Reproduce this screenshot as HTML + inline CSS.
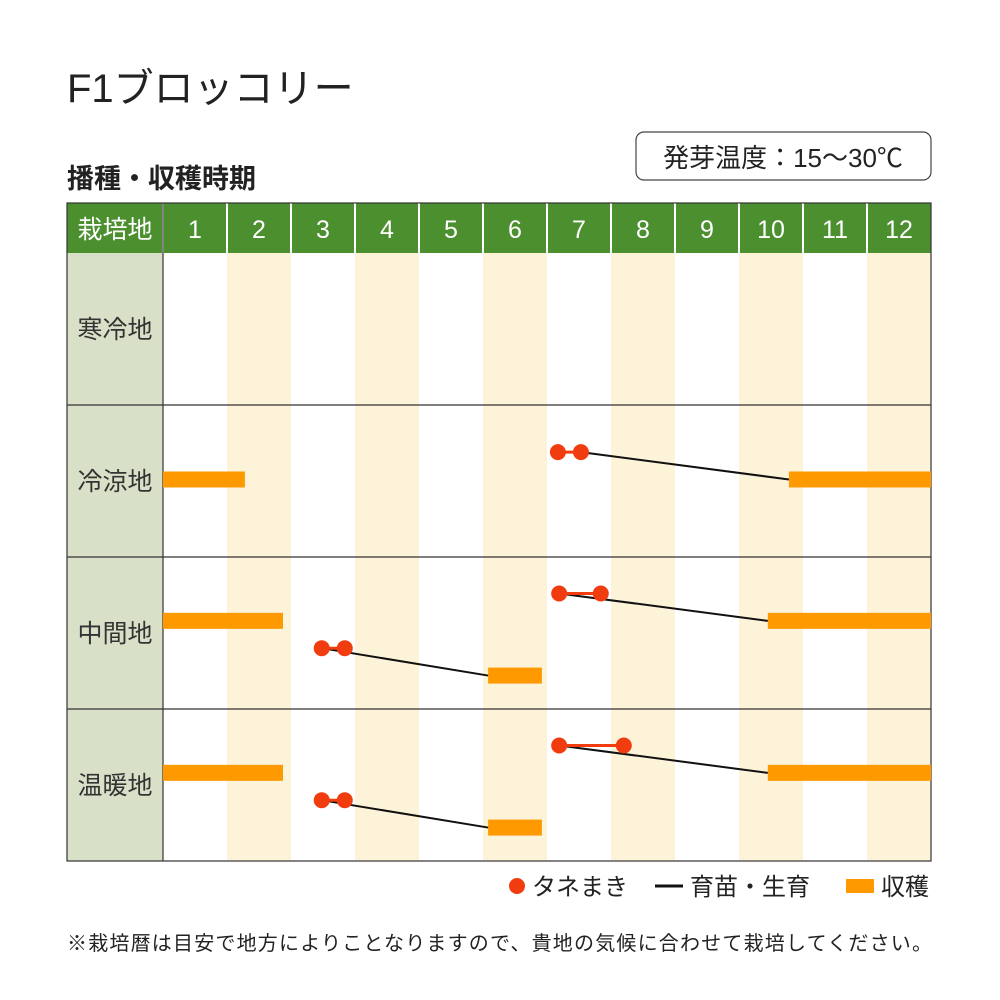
<!DOCTYPE html>
<html><head><meta charset="utf-8"><style>
body{margin:0;background:#fff;font-family:"Liberation Sans","Noto Sans CJK JP",sans-serif;}
#wrap{position:relative;width:1000px;height:1000px;overflow:hidden}
</style></head><body>
<div id="wrap">
<svg id="svg" width="1000" height="1000" style="position:absolute;left:0;top:0"></svg>
</div>
<script>
const months=["1","2","3","4","5","6","7","8","9","10","11","12"];
const regions=["寒冷地","冷涼地","中間地","温暖地"];
// harvest bars: [regionIndex, lane(0..1 fraction of row), startMonth, endMonth]
const harvestRegion=[1,1,2,2,2,3,3,3];
const harvestLane=[0.49,0.49,0.42,0.78,0.42,0.42,0.78,0.42];
const harvestStart=[0,9.78,0,5.08,9.45,0,5.08,9.45];
const harvestEnd=[1.28,12,1.875,5.92,12,1.875,5.92,12];
// sowing: region, lane, first dot, last dot, linked harvest index
const sowRegion=[1,2,2,3,3];
const sowLane=[0.31,0.24,0.60,0.24,0.60];
const sowStart=[6.17,6.19,2.48,6.19,2.48];
const sowEnd=[6.53,6.84,2.84,7.2,2.84];
const sowTarget=[1,4,3,7,6];
const lineFromEnd=[true,false,false,false,false];

const svg=document.getElementById('svg');const NS='http://www.w3.org/2000/svg';
function el(t,a,p){const e=document.createElementNS(NS,t);for(const k in a)e.setAttribute(k,a[k]);(p||svg).appendChild(e);return e;}
const X0=163,CW=64,HY=203,HH=50,RY=253,RH=152,LX=67;
const xs=m=>X0+m*CW;
const ys=(r,l)=>RY+r*RH+l*RH;

let t=el('text',{x:67,y:102,'font-size':40,fill:'#222'});t.textContent='F1ブロッコリー';


t=el('text',{x:67,y:188,'font-size':27,fill:'#222','font-weight':'bold'});t.textContent='播種・収穫時期';


let r=el('rect',{x:636,y:132,width:295,height:48,rx:8,fill:'#fff',stroke:'#444','stroke-width':1.2});


t=el('text',{x:783,y:167,'font-size':26,fill:'#222','text-anchor':'middle'});t.textContent='発芽温度：15～30℃';



// column backgrounds
months.forEach((m,i)=>{if(i%2==1){const c=el('rect',{x:xs(i),y:RY,width:CW,height:RH*4,fill:'#fdf3d9'});

}});
// header
r=el('rect',{x:LX,y:HY,width:931-LX,height:HH,fill:'#4b8f2f'});


t=el('text',{x:115,y:238,'font-size':25,fill:'#fff','text-anchor':'middle'});t.textContent='栽培地';


months.forEach((m,i)=>{
 el('line',{x1:xs(i),y1:HY,x2:xs(i),y2:HY+HH,stroke:'#fff','stroke-width':2});
 const h=el('text',{x:xs(i)+CW/2,y:238,'font-size':25,fill:'#fff','text-anchor':'middle'});h.textContent=m;
 
 
});
// region label column
regions.forEach((g,i)=>{
 const c=el('rect',{x:LX,y:RY+i*RH,width:X0-LX,height:RH,fill:'#d8e0c8'});
 
 
 const l=el('text',{x:115,y:RY+i*RH+RH/2+9,'font-size':25,fill:'#333','text-anchor':'middle'});l.textContent=g;
 
 
});
// borders
el('rect',{x:LX,y:HY,width:931-LX,height:861-HY,fill:'none',stroke:'#333','stroke-width':1.2});
el('line',{x1:X0,y1:HY,x2:X0,y2:861,stroke:'#333','stroke-width':1.2});
for(let i=1;i<4;i++)el('line',{x1:LX,y1:RY+i*RH,x2:931,y2:RY+i*RH,stroke:'#333','stroke-width':1.2});

// harvest bars
harvestStart.forEach((s,i)=>{
 const b=el('rect',{x:xs(s),y:ys(harvestRegion[i],harvestLane[i])-8,width:xs(harvestEnd[i])-xs(s),height:16,fill:'#ff9900'});
 
 
});
// sowing
sowStart.forEach((s,i)=>{
 const y=ys(sowRegion[i],sowLane[i]);const h=sowTarget[i];
 const lx=lineFromEnd[i]?xs(sowEnd[i]):xs(s);
 const ln=el('line',{x1:lx,y1:y,x2:xs(harvestStart[h]),y2:ys(harvestRegion[h],harvestLane[h]),stroke:'#111','stroke-width':2});
 
 
 el('line',{x1:xs(s),y1:y,x2:xs(sowEnd[i]),y2:y,stroke:'#f03c0f','stroke-width':3});
 [s,sowEnd[i]].forEach(v=>{const d=el('circle',{cx:xs(v),cy:y,r:8,fill:'#f03c0f'});
 
 });
});
// legend
let g=el('g',{});
el('circle',{cx:517,cy:886,r:8,fill:'#f03c0f'},g);
t=el('text',{x:532,y:895,'font-size':24,fill:'#222'},g);t.textContent='タネまき';
el('line',{x1:655,y1:886,x2:683,y2:886,stroke:'#111','stroke-width':3},g);
t=el('text',{x:690,y:895,'font-size':24,fill:'#222'},g);t.textContent='育苗・生育';
el('rect',{x:846,y:879,width:28,height:14,fill:'#ff9900'},g);
t=el('text',{x:881,y:895,'font-size':24,fill:'#222'},g);t.textContent='収穫';
t=el('text',{x:67,y:950,'font-size':20,fill:'#222',textLength:865});t.textContent='※栽培暦は目安で地方によりことなりますので、貴地の気候に合わせて栽培してください。';


</script>
</body></html>
